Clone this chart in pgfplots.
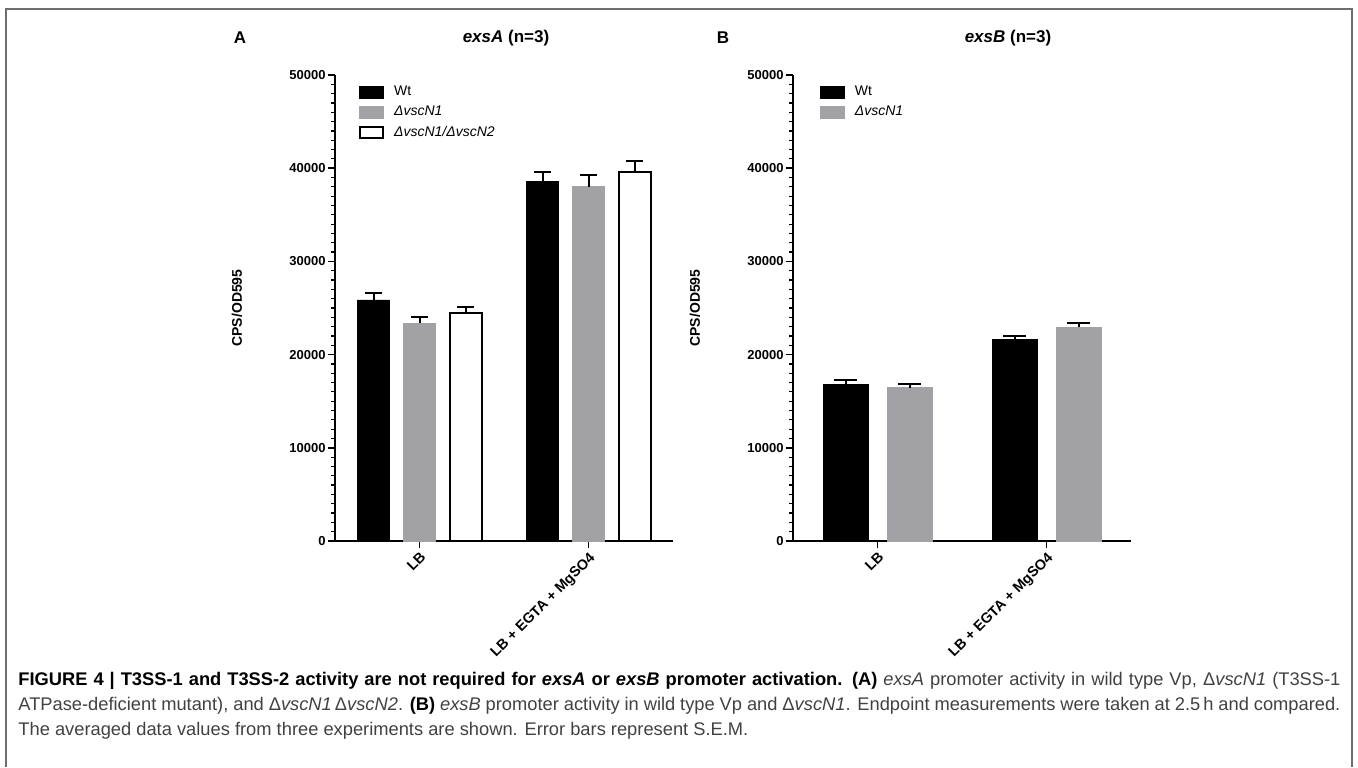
\documentclass[border=0pt]{standalone}
\usepackage{fontspec}
\setmainfont{Liberation Sans}
\usepackage{pgfplots}
\pgfplotsset{compat=1.18}
\definecolor{barGrey}{RGB}{161,161,166}
\definecolor{frameGrey}{RGB}{110,110,110}
\definecolor{capGrey}{RGB}{65,65,65}
\newcommand{\fs}[1]{\fontsize{#1}{#1}\selectfont}

\pgfplotsset{
  panel/.style={
    scale only axis, width=169pt, height=233pt,
    anchor=south west, clip=false,
    ymin=0, ymax=50000, xmin=-0.5, xmax=1.5,
    axis x line*=bottom, axis y line*=left,
    axis line style={line width=1pt, -},
    xtick={0,1}, xticklabels={LB, LB + EGTA + MgSO4},
    ytick={0,10000,...,50000}, minor y tick num=9,
    tick align=outside,
    major tick length=3.5pt, minor tick length=2pt,
    tick style={black, line width=0.8pt},
    minor tick style={line width=0.6pt},
    scaled y ticks=false,
    yticklabel style={font=\bfseries\fs{6.5}, inner sep=1pt,
      /pgf/number format/assume math mode=true, /pgf/number format/1000 sep={}},
    xticklabel style={font=\bfseries\fs{7.2}, rotate=45, anchor=north east, inner sep=1pt},
    ylabel={\bfseries CPS/OD595},
    ylabel style={font=\fs{7}, at={(axis description cs:-0.29,0.5)}, anchor=center},
    legend style={draw=none, fill=none, font=\fs{7}, anchor=north west,
      inner sep=0pt, row sep=1.8pt, nodes={inner sep=1pt},
      /tikz/every odd column/.append style={column sep=4pt}},
    legend cell align=left,
    ybar legend/.style={legend image code/.code={%
      \draw[##1, line width=0.9pt] (0pt,-2.75pt) rectangle (11.5pt,2.75pt);}},
  },
  errs/.style={error bars/.cd, y dir=plus, y explicit,
    error bar style={line width=1pt, black},
    error mark options={rotate=90, mark size=#1, line width=1pt, black}},
}

\begin{document}
\begin{tikzpicture}
\path[use as bounding box] (0,0) rectangle (679pt,383.5pt);
\draw[frameGrey, line width=0.8pt] (3pt,0) -- (3pt,379pt) -- (676pt,379pt) -- (676pt,0);

% panel A
\node[font=\bfseries\fs{8.5}] at (120pt,364.5pt) {A};
\node[font=\fs{8.5}] at (253pt,364.5pt) {\textbf{\textit{exsA}} \textbf{(n=3)}};
\begin{axis}[panel, at={(167.5pt,113pt)},
  ybar=7pt, bar width=16pt,
  legend style={at={(rel axis cs:0.071,0.982)}}]
\addplot[fill=black, draw=black, errs=4.25pt]
  coordinates {(0,25860) +- (0,780) (1,38550) +- (0,1070)};
\addplot[fill=barGrey, draw=barGrey, errs=4.25pt]
  coordinates {(0,23360) +- (0,680) (1,38010) +- (0,1260)};
\addplot[fill=white, draw=black, line width=1pt, errs=4.25pt]
  coordinates {(0,24430) +- (0,710) (1,39560) +- (0,1210)};
\legend{Wt, \textit{ΔvscN1}, \textit{ΔvscN1/ΔvscN2}}
\end{axis}

% panel B
\node[font=\bfseries\fs{8.5}] at (361.5pt,364.5pt) {B};
\node[font=\fs{8.5}] at (504pt,364.5pt) {\textbf{\textit{exsB}} \textbf{(n=3)}};
\begin{axis}[panel, at={(396.5pt,113pt)},
  ybar=9.5pt, bar width=22.5pt,
  legend style={at={(rel axis cs:0.079,0.982)}}]
\addplot[fill=black, draw=black, errs=5.75pt]
  coordinates {(0,16810) +- (0,460) (1,21640) +- (0,390)};
\addplot[fill=barGrey, draw=barGrey, errs=5.75pt]
  coordinates {(0,16450) +- (0,360) (1,22930) +- (0,430)};
\legend{Wt, \textit{ΔvscN1}}
\end{axis}

% caption (justified like the journal's)
\begin{scope}[every node/.style={anchor=west, inner sep=0pt, font=\fs{9.15}, text=capGrey}]
\node at (9pt,43pt) {\makebox[661pt][s]{\textbf{\color{black}FIGURE 4 | T3SS-1 and T3SS-2 activity are not required for \textit{exsA} or \textit{exsB} promoter activation. (A)} \textit{exsA} promoter activity in wild type Vp, Δ\textit{vscN1} (T3SS-1}};
\node at (9pt,30.5pt) {\makebox[661pt][s]{ATPase-deficient mutant), and Δ\textit{vscN1}\,Δ\textit{vscN2}. \textbf{\color{black}(B)} \textit{exsB} promoter activity in wild type Vp and Δ\textit{vscN1}. Endpoint measurements were taken at 2.5\,h and compared.}};
\node at (9pt,18pt) {The averaged data values from three experiments are shown. Error bars represent S.E.M.};
\end{scope}
\end{tikzpicture}
\end{document}
